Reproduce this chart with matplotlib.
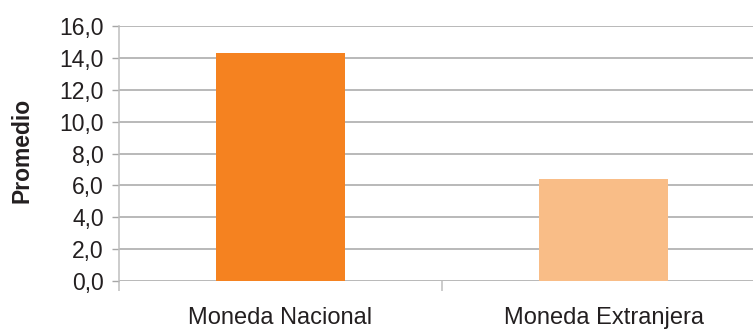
import numpy as np
import matplotlib.pyplot as plt
from matplotlib.ticker import FuncFormatter

categories = ["Moneda Nacional", "Moneda Extranjera"]
values = [14.3, 6.4]
colors = ["#F58220", "#F9BD87"]
yticks = [0, 2, 4, 6, 8, 10, 12, 14, 16]

plt.rcParams['font.family'] = ['Liberation Sans', 'DejaVu Sans']

fig = plt.figure(figsize=(7.53, 3.29), dpi=100)
ax = fig.add_axes([119 / 753, 48 / 329, 646 / 753, 255 / 329])

x = np.arange(len(categories))
ax.set_axisbelow(True)
ax.yaxis.grid(True, color="#a6a6a6", linewidth=1.1)
ax.bar(x, values, width=0.4, color=colors, zorder=3)

ax.set_xlim(-0.5, 1.5)
ax.set_ylim(0, 16)
ax.set_yticks(yticks)
ax.yaxis.set_major_formatter(FuncFormatter(lambda v, p: ("%.1f" % v).replace(".", ",")))
ax.set_xticks(x)
ax.set_xticklabels(categories)
ax.set_xticks([-0.5, 0.5], minor=True)

for s in ["top", "right", "bottom"]:
    ax.spines[s].set_visible(False)
ax.spines["left"].set_color("#bfbfbf")
ax.spines["left"].set_linewidth(1.1)

ax.tick_params(axis="y", length=5, width=1, color="#a6a6a6", pad=6,
               labelsize=16.5, labelcolor="#231f20")
ax.tick_params(axis="x", which="major", length=0, pad=19,
               labelsize=17, labelcolor="#231f20")
ax.tick_params(axis="x", which="minor", length=7, width=1.1, color="#bfbfbf")

fig.text(22 / 753, 1 - 150 / 329, "Promedio", rotation=90, ha="center", va="center",
         fontsize=16.5, fontweight="bold", color="#231f20")

fig.savefig("out.png", dpi=100)
